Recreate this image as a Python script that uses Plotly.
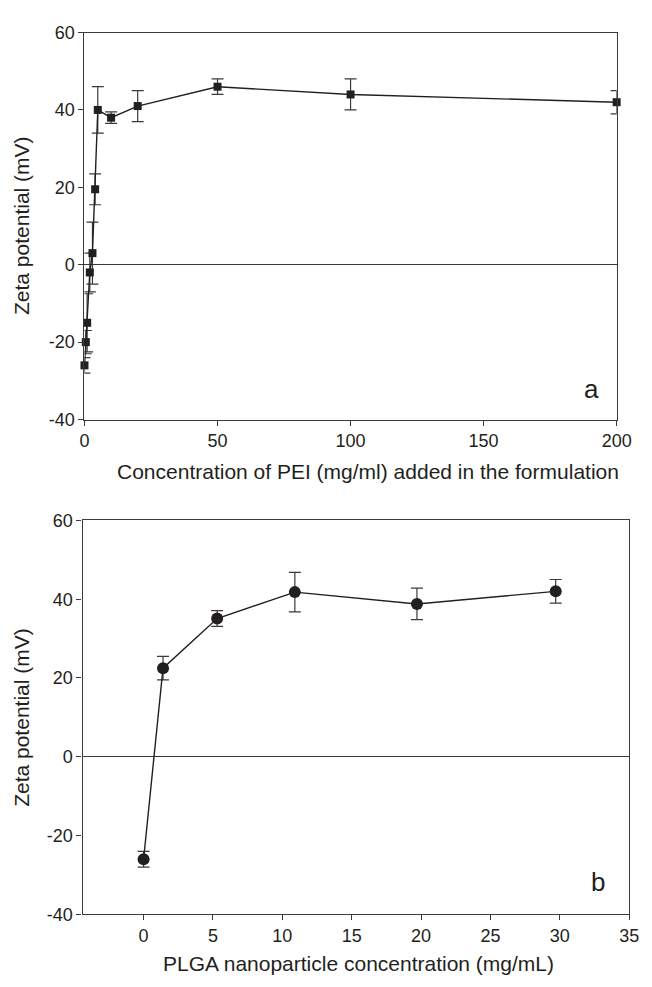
import plotly.graph_objects as go

# Panel a: PEI concentration vs zeta potential
pei_conc = [0, 0.5, 1, 2, 3, 4, 5, 10, 20, 50, 100, 200]
pei_zeta = [-26, -20, -15, -2, 3, 19.5, 40, 38, 41, 46, 44, 42]
pei_err = [2, 3, 7.5, 5, 8, 4, 6, 1.5, 4, 2, 4, 3]

# Panel b: PLGA nanoparticle concentration vs zeta potential
plga_conc = [0, 1.4, 5.3, 10.9, 19.7, 29.7]
plga_zeta = [-26, 22.5, 35.1, 41.8, 38.8, 42]
plga_err = [2, 3, 2, 5, 4, 3]

y_ticks = [-40, -20, 0, 20, 40, 60]
y_ticklabels = ["-40", "-20", "0", "20", "40", "60"]
a_xticks = [0, 50, 100, 150, 200]
b_xticks = [0, 5, 10, 15, 20, 25, 30, 35]

W, H = 652, 987
INK = "#231f20"
AX = "#3a3a3a"
FONT = "Liberation Sans, Arial, sans-serif"

def px_x(p):
    return p / W

def px_y(p):
    return 1 - p / H

fig = go.Figure()

fig.add_trace(go.Scatter(
    x=pei_conc, y=pei_zeta, mode="lines+markers",
    line=dict(color=INK, width=1.4),
    marker=dict(symbol="square", size=8, color=INK),
    error_y=dict(type="data", array=pei_err, visible=True, color=AX, thickness=1.2, width=6),
    xaxis="x", yaxis="y", showlegend=False, cliponaxis=False,
))

fig.add_trace(go.Scatter(
    x=plga_conc, y=plga_zeta, mode="lines+markers",
    line=dict(color=INK, width=1.4),
    marker=dict(symbol="circle", size=12, color=INK),
    error_y=dict(type="data", array=plga_err, visible=True, color=AX, thickness=1.2, width=6),
    xaxis="x2", yaxis="y2", showlegend=False, cliponaxis=False,
))

axis_common = dict(
    showline=True, linecolor=AX, linewidth=1.3, mirror=True,
    ticks="outside", ticklen=5, tickwidth=1.2, tickcolor=AX,
    showgrid=False, tickfont=dict(family=FONT, size=18, color=INK),
    ticklabeloverflow="allow",
)

fig.update_layout(
    width=W, height=H,
    margin=dict(l=0, r=0, t=0, b=0),
    paper_bgcolor="white", plot_bgcolor="white",
    font=dict(family=FONT, color=INK),
    xaxis=dict(domain=[px_x(82), px_x(631)], range=[0, 200], tickvals=a_xticks,
               zeroline=False, anchor="y", **axis_common),
    yaxis=dict(domain=[px_y(418), px_y(23)], range=[-40, 60], tickvals=y_ticks,
               ticktext=y_ticklabels,
               zeroline=True, zerolinecolor=AX, zerolinewidth=1, anchor="x", **axis_common),
    xaxis2=dict(domain=[px_x(80), px_x(644)], range=[-4.4, 35], tickvals=b_xticks,
                zeroline=False, anchor="y2", **axis_common),
    yaxis2=dict(domain=[px_y(923), px_y(521)], range=[-40, 60], tickvals=y_ticks,
                ticktext=y_ticklabels,
                zeroline=True, zerolinecolor=AX, zerolinewidth=1, anchor="x2", **axis_common),
)

ann = [
    dict(text="Concentration of PEI (mg/ml) added in the formulation", x=px_x(375), y=px_y(471),
         font=dict(size=21)),
    dict(text="Zeta potential (mV)", x=px_x(17), y=px_y(220), textangle=-90, font=dict(size=21)),
    dict(text="a", x=px_x(605), y=px_y(387), font=dict(size=26)),
    dict(text="PLGA nanoparticle concentration (mg/mL)", x=px_x(365), y=px_y(973),
         font=dict(size=21)),
    dict(text="Zeta potential (mV)", x=px_x(17), y=px_y(722), textangle=-90, font=dict(size=21)),
    dict(text="b", x=px_x(612), y=px_y(890), font=dict(size=26)),
]
for a in ann:
    a.update(xref="paper", yref="paper", showarrow=False, xanchor="center", yanchor="middle")
    a["font"] = dict(family=FONT, color=INK, **a["font"])
    fig.add_annotation(**a)

fig.write_html("out.html")
